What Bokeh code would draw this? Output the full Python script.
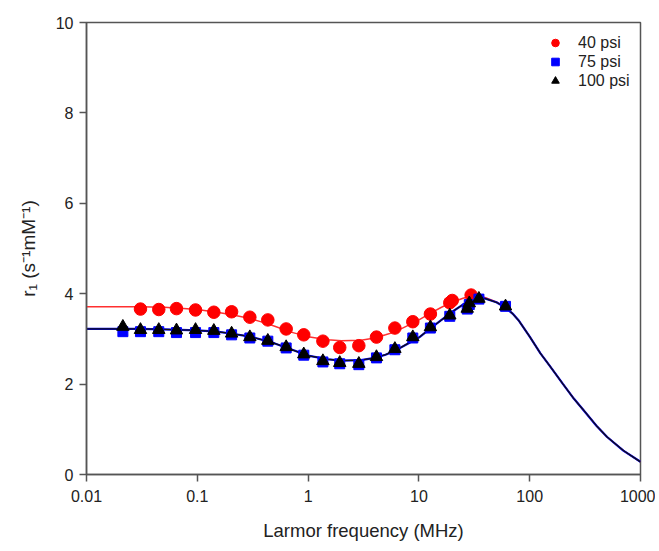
from bokeh.plotting import figure
from bokeh.models import FixedTicker, CustomJSTickFormatter, Legend, LegendItem
from bokeh.embed import file_html
from bokeh.resources import INLINE

# ---- measured points ----
freq_40 = [0.0307, 0.0449, 0.0649, 0.0964, 0.141, 0.204, 0.298, 0.433, 0.634, 0.914,
           1.36, 1.93, 2.87, 4.14, 6.07, 8.81, 12.7, 19.0, 20.0, 29.6]
r1_40 = [3.66, 3.65, 3.67, 3.64, 3.59, 3.60, 3.48, 3.42, 3.22, 3.09,
         2.95, 2.81, 2.85, 3.04, 3.24, 3.38, 3.55, 3.80, 3.85, 3.97]

freq_75 = [0.0213, 0.0307, 0.0449, 0.0649, 0.0964, 0.141, 0.204, 0.298, 0.433, 0.634, 0.914,
           1.36, 1.93, 2.87, 4.14, 6.07, 8.81, 12.7, 19.0, 27.3, 28.5, 34.8, 60.5]
r1_75 = [3.16, 3.16, 3.16, 3.14, 3.14, 3.14, 3.09, 3.02, 2.95, 2.80, 2.64,
         2.49, 2.45, 2.43, 2.58, 2.76, 3.02, 3.24, 3.50, 3.66, 3.76, 3.88, 3.72]

freq_100 = [0.0213, 0.0307, 0.0449, 0.0649, 0.0964, 0.141, 0.204, 0.298, 0.433, 0.634, 0.914,
            1.36, 1.93, 2.87, 4.14, 6.07, 8.81, 12.7, 19.0, 27.3, 28.5, 34.8, 60.5]
r1_100 = [3.27, 3.20, 3.20, 3.19, 3.20, 3.18, 3.12, 3.04, 2.96, 2.82, 2.66,
          2.51, 2.47, 2.45, 2.60, 2.78, 3.04, 3.26, 3.52, 3.67, 3.79, 3.89, 3.72]

# ---- fitted curves ----
curve_x = [0.01, 0.02, 0.03, 0.05, 0.07, 0.1, 0.15, 0.2, 0.3, 0.4, 0.5, 0.7, 1.0, 1.5, 2.0,
           3.0, 4.0, 5.0, 6.0, 8.0, 10, 13, 16, 20, 25, 30, 35, 40, 50, 60, 70, 80, 100,
           125, 150, 200, 250, 300, 400, 500, 700, 1000]
fit_40 = [3.71, 3.71, 3.71, 3.70, 3.68, 3.65, 3.59, 3.54, 3.45, 3.36, 3.28, 3.15, 3.05, 2.98, 2.96,
          2.97, 3.02, 3.09, 3.15, 3.30, 3.42, 3.58, 3.70, 3.81, 3.90, 3.95, 3.95, 3.91, 3.82, 3.70,
          3.56, 3.40, 3.05, 2.68, 2.42, 2.00, 1.68, 1.45, 1.08, 0.83, 0.53, 0.28]
fit_75 = [3.22, 3.22, 3.22, 3.21, 3.20, 3.19, 3.16, 3.12, 3.05, 2.97, 2.90, 2.77, 2.63, 2.55, 2.52,
          2.53, 2.58, 2.65, 2.73, 2.90, 3.03, 3.25, 3.42, 3.60, 3.76, 3.86, 3.90, 3.89, 3.81, 3.70,
          3.56, 3.40, 3.05, 2.68, 2.42, 2.00, 1.68, 1.45, 1.08, 0.83, 0.53, 0.28]
fit_100 = [3.22, 3.22, 3.22, 3.21, 3.20, 3.19, 3.16, 3.12, 3.05, 2.97, 2.90, 2.77, 2.63, 2.55, 2.52,
           2.53, 2.58, 2.65, 2.73, 2.90, 3.03, 3.25, 3.42, 3.60, 3.76, 3.86, 3.90, 3.89, 3.81, 3.70,
           3.56, 3.40, 3.05, 2.68, 2.42, 2.00, 1.68, 1.45, 1.08, 0.83, 0.53, 0.28]

x_ticks = [0.01, 0.1, 1, 10, 100, 1000]
y_ticks = [0, 2, 4, 6, 8, 10]
labels = ["40 psi", "75 psi", "100 psi"]

FONT = "Liberation Sans"
AX = "#555555"

p = figure(width=655, height=543, x_axis_type="log", x_range=(0.01, 1000), y_range=(0, 10),
           output_backend="svg", toolbar_location=None,
           min_border_left=86, min_border_right=15, min_border_top=22, min_border_bottom=67)
p.grid.visible = False
p.outline_line_color = AX
p.outline_line_width = 1.5
p.background_fill_color = "white"
p.border_fill_color = "white"

l1 = p.line(curve_x, fit_40, line_color="#ff3030", line_width=1.5)
l2 = p.line(curve_x, fit_75, line_color="#0000ff", line_width=2.2)
l3 = p.line(curve_x, fit_100, line_color="#111111", line_width=1.3)

r_40 = p.scatter(freq_40, r1_40, marker="circle", size=12.5, fill_color="#ff0000", line_color="#ff0000")
r_75 = p.scatter(freq_75, r1_75, marker="square", size=10, fill_color="#0000ff", line_color="#0000ff")
r_100 = p.scatter(freq_100, r1_100, marker="triangle", size=12.5, fill_color="#000000", line_color="#000000")

for ax in (p.xaxis[0], p.yaxis[0]):
    ax.axis_line_color = AX
    ax.axis_line_width = 1.5
    ax.major_tick_line_color = AX
    ax.major_tick_line_width = 1.5
    ax.major_tick_out = 7
    ax.major_tick_in = 0
    ax.minor_tick_line_color = None
    ax.major_label_text_font = FONT
    ax.major_label_text_font_size = "16px"
    ax.major_label_text_color = "#222222"
    ax.axis_label_text_font = FONT
    ax.axis_label_text_font_style = "normal"
    ax.axis_label_text_color = "#222222"

p.xaxis.ticker = FixedTicker(ticks=x_ticks)
p.xaxis.formatter = CustomJSTickFormatter(code="return tick.toString();")
p.xaxis.axis_label = "Larmor frequency (MHz)"
p.xaxis.axis_label_text_font_size = "18.5px"
p.xaxis.major_label_standoff = 8
p.xaxis.axis_label_standoff = 15

p.yaxis.ticker = FixedTicker(ticks=y_ticks)
p.yaxis.axis_label = "r\u2081 (s\u207b\u00b9mM\u207b\u00b9)"
p.yaxis.axis_label_text_font_size = "19px"
p.yaxis.major_label_standoff = 6
p.yaxis.axis_label_standoff = 14

legend = Legend(items=[LegendItem(label=labels[0], renderers=[r_40]),
                       LegendItem(label=labels[1], renderers=[r_75]),
                       LegendItem(label=labels[2], renderers=[r_100])],
                location=(459, 384), padding=0, margin=0, spacing=0,
                glyph_width=20, glyph_height=19, label_height=19, label_standoff=13,
                label_text_font=FONT, label_text_font_size="16px", label_text_color="#222222",
                border_line_color=None, background_fill_alpha=0)
p.add_layout(legend, "center")

open("out.html", "w").write(file_html(p, INLINE))
